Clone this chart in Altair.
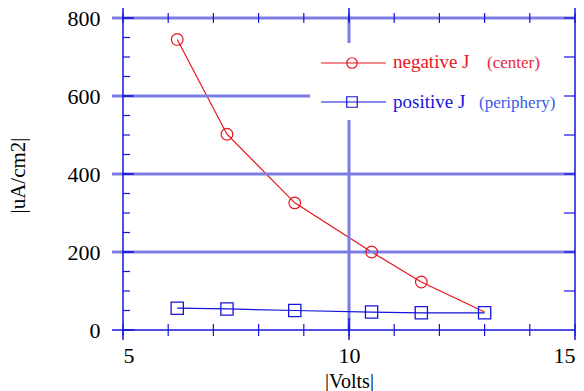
import altair as alt
import pandas as pd

# ---- data ----
volts = [6.2, 7.3, 8.8, 10.5, 11.6, 13.0]
j_negative = [745, 502, 326, 200, 123, 46]
j_positive = [56, 54, 50, 46, 44, 44]
neg_marker = [True, True, True, True, True, False]

x_ticks = [5, 6, 7, 8, 9, 10, 11, 12, 13, 14, 15]
x_labels = [5, 10, 15]
y_labels = [0, 200, 400, 600, 800]
y_ticks_left = list(range(0, 801, 50))
y_ticks_right = [100, 300, 500, 700]
grid_y = [200, 400, 600, 800]
grid_x = [10]
frame_x = [5, 15]
legend_labels = ["negative J", "positive J"]
legend_notes = ["(center)", "(periphery)"]

W, H = 452, 312
RED = "#e8141e"
RED2 = "#e8283c"
BLUE = "#1414dc"
BLUE2 = "#3a5ae8"
GRID = "#7c7ce4"
FONT = "'Liberation Serif', 'Times New Roman', serif"

xs = alt.Scale(domain=[5, 15], nice=False, zero=False)
ys = alt.Scale(domain=[0, 800], nice=False, zero=False)

df = pd.DataFrame({"v": volts, "neg": j_negative, "pos": j_positive, "m": neg_marker})


def vals(name, values):
    return pd.DataFrame({name: values})


# grid lines
grid_h = alt.Chart(vals("g", grid_y)).mark_rule(color=GRID, strokeWidth=3).encode(
    y=alt.Y("g:Q", scale=ys, axis=None), x=alt.value(-11), x2=alt.value(W))
grid_v = alt.Chart(vals("g", grid_x)).mark_rule(color=GRID, strokeWidth=3).encode(
    x=alt.X("g:Q", scale=xs, axis=None), y=alt.value(0), y2=alt.value(H))

# legend background
legend_bg = alt.Chart(vals("k", [0])).mark_rect(color="white").encode(
    x=alt.value(187), x2=alt.value(W - 1), y=alt.value(25), y2=alt.value(102))

# frame
base_line = alt.Chart(vals("b", [0])).mark_rule(color=BLUE, strokeWidth=1.5).encode(
    y=alt.Y("b:Q", scale=ys, axis=None), x=alt.value(-11), x2=alt.value(W))
frame_v = alt.Chart(vals("f", frame_x)).mark_rule(color=BLUE, strokeWidth=1.5).encode(
    x=alt.X("f:Q", scale=xs, axis=None), y=alt.value(-10), y2=alt.value(H + 10))

# ticks
xt_top = alt.Chart(vals("t", x_ticks)).mark_rule(color=BLUE, strokeWidth=1.2).encode(
    x=alt.X("t:Q", scale=xs, axis=None), y=alt.value(-5), y2=alt.value(5))
xt_bot = alt.Chart(vals("t", x_ticks)).mark_rule(color=BLUE, strokeWidth=1.2).encode(
    x=alt.X("t:Q", scale=xs, axis=None), y=alt.value(H - 6), y2=alt.value(H + 6))
xt_major = alt.Chart(vals("t", grid_x)).mark_rule(color=BLUE, strokeWidth=1.5).encode(
    x=alt.X("t:Q", scale=xs, axis=None), y=alt.value(-10), y2=alt.value(3))
xt_major_b = alt.Chart(vals("t", grid_x)).mark_rule(color=BLUE, strokeWidth=1.5).encode(
    x=alt.X("t:Q", scale=xs, axis=None), y=alt.value(H - 12), y2=alt.value(H + 10))
yt_left = alt.Chart(vals("t", y_ticks_left)).mark_rule(color=BLUE, strokeWidth=1.2).encode(
    y=alt.Y("t:Q", scale=ys, axis=None), x=alt.value(0), x2=alt.value(7))
yt_left_major = alt.Chart(vals("t", y_labels)).mark_rule(color=BLUE, strokeWidth=1.5).encode(
    y=alt.Y("t:Q", scale=ys, axis=None), x=alt.value(0), x2=alt.value(11))
yt_right = alt.Chart(vals("t", y_ticks_right + grid_y)).mark_rule(color=BLUE, strokeWidth=1.2).encode(
    y=alt.Y("t:Q", scale=ys, axis=None), x=alt.value(W - 11), x2=alt.value(W))

# axes (labels and titles only)
x_axis = alt.Axis(values=x_labels, domain=False, ticks=False, grid=False,
                  labelFont=FONT, labelFontSize=22, labelColor="black", labelPadding=15,
                  labelBaseline="top", title="|Volts|", titleFont=FONT, titleFontSize=20,
                  titleFontWeight="normal", titleColor="black", titleX=W / 2, titleY=51,
                  titleBaseline="middle", titleAlign="center")
y_axis = alt.Axis(values=y_labels, domain=False, ticks=False, grid=False,
                  labelFont=FONT, labelFontSize=22, labelColor="black", labelPadding=23,
                  labelBaseline="middle", title="|uA/cm2|", titleFont=FONT, titleFontSize=21,
                  titleFontWeight="normal", titleColor="black", titleX=-105, titleY=157,
                  titleBaseline="middle", titleAlign="center", titleAngle=-90)

neg_line = alt.Chart(df).mark_line(color=RED, strokeWidth=1.2).encode(
    x=alt.X("v:Q", scale=xs, axis=x_axis), y=alt.Y("neg:Q", scale=ys, axis=y_axis))
neg_pts = alt.Chart(df).transform_filter("datum.m").mark_point(
    shape="circle", size=135, color=RED, filled=False, strokeWidth=1.2, opacity=1).encode(
    x=alt.X("v:Q", scale=xs, axis=None), y=alt.Y("neg:Q", scale=ys, axis=None))
pos_line = alt.Chart(df).mark_line(color=BLUE, strokeWidth=1.2).encode(
    x=alt.X("v:Q", scale=xs, axis=None), y=alt.Y("pos:Q", scale=ys, axis=None))
pos_pts = alt.Chart(df).mark_point(
    shape="square", size=150, color=BLUE, filled=False, strokeWidth=1.3, opacity=1).encode(
    x=alt.X("v:Q", scale=xs, axis=None), y=alt.Y("pos:Q", scale=ys, axis=None))

# legend
lg_red_line = alt.Chart(vals("k", [0])).mark_rule(color=RED, strokeWidth=1.2).encode(
    x=alt.value(198), x2=alt.value(263), y=alt.value(45))
lg_red_pt = alt.Chart(vals("k", [0])).mark_point(
    shape="circle", size=110, color=RED, filled=False, strokeWidth=1.2, opacity=1).encode(
    x=alt.value(229), y=alt.value(45))
lg_blue_line = alt.Chart(vals("k", [0])).mark_rule(color=BLUE, strokeWidth=1.2).encode(
    x=alt.value(198), x2=alt.value(263), y=alt.value(84))
lg_blue_pt = alt.Chart(vals("k", [0])).mark_point(
    shape="square", size=110, color=BLUE, filled=False, strokeWidth=1.2, opacity=1).encode(
    x=alt.value(229), y=alt.value(84))
lg_t1 = alt.Chart(vals("t", legend_labels[:1])).mark_text(
    font=FONT, fontSize=19, color=RED, align="left", baseline="alphabetic").encode(
    text="t:N", x=alt.value(270), y=alt.value(50))
lg_n1 = alt.Chart(vals("t", legend_notes[:1])).mark_text(
    font=FONT, fontSize=17, color=RED2, align="left", baseline="alphabetic").encode(
    text="t:N", x=alt.value(364), y=alt.value(50))
lg_t2 = alt.Chart(vals("t", legend_labels[1:])).mark_text(
    font=FONT, fontSize=19, color=BLUE, align="left", baseline="alphabetic").encode(
    text="t:N", x=alt.value(270), y=alt.value(90))
lg_n2 = alt.Chart(vals("t", legend_notes[1:])).mark_text(
    font=FONT, fontSize=17, color=BLUE2, align="left", baseline="alphabetic").encode(
    text="t:N", x=alt.value(356), y=alt.value(90))

chart = alt.layer(
    neg_line, grid_h, grid_v, legend_bg, base_line, frame_v,
    xt_top, xt_bot, xt_major, xt_major_b, yt_left, yt_left_major, yt_right,
    neg_pts, pos_line, pos_pts,
    lg_red_line, lg_red_pt, lg_blue_line, lg_blue_pt, lg_t1, lg_n1, lg_t2, lg_n2,
).resolve_axis(x="independent", y="independent").properties(
    width=W, height=H,
    autosize=alt.AutoSizeParams(type="none"),
    padding={"left": 123, "top": 18, "right": 9, "bottom": 61},
    background="white",
).configure(font=FONT).configure_axis(
    labelFont=FONT, titleFont=FONT, labelFontWeight="normal"
).configure_view(stroke=None)

chart.save("out.html", embed_options={"renderer": "svg", "actions": False})
